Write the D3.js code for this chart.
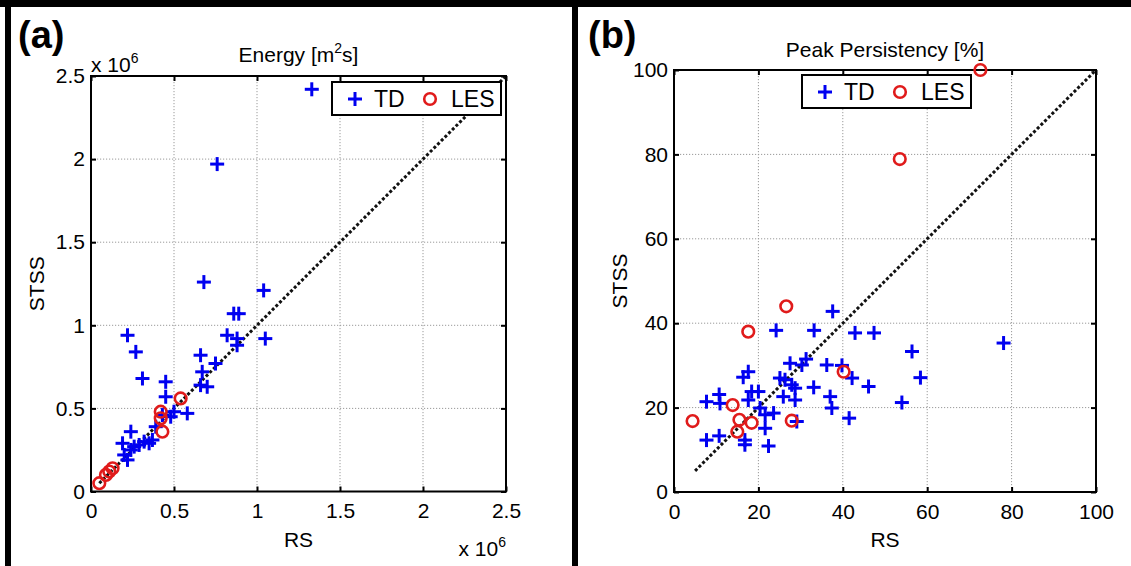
<!DOCTYPE html>
<html><head><meta charset="utf-8">
<script src="https://cdn.jsdelivr.net/npm/d3@7"></script>
<style>body{margin:0;background:#fff}svg{display:block;font-family:"Liberation Sans",Arial,sans-serif}</style>
</head><body><svg id="c" width="1131" height="566"></svg>
<script>
// Panel (a): Energy [m^2 s], values in units of 10^6
const ticksA = [0, 0.5, 1, 1.5, 2, 2.5];
const tickLabelsA = ["0", "0.5", "1", "1.5", "2", "2.5"];
const tdA_rs   = [1.33,0.76,0.68,1.04,0.86,0.89,0.82,0.88,0.88,1.05,0.66,0.75,0.67,0.66,0.70,0.22,0.27,0.31,0.45,0.45,0.24,0.19,0.26,0.22,0.29,0.32,0.35,0.37,0.39,0.43,0.48,0.50,0.58,0.20,0.24];
const tdA_stss = [2.42,1.97,1.26,1.21,1.07,1.07,0.94,0.92,0.88,0.92,0.82,0.77,0.72,0.64,0.63,0.94,0.84,0.68,0.66,0.57,0.36,0.29,0.27,0.19,0.28,0.30,0.29,0.31,0.39,0.46,0.45,0.48,0.47,0.22,0.25];
const lesA_rs   = [0.05,0.09,0.11,0.13,0.42,0.42,0.43,0.54];
const lesA_stss = [0.05,0.10,0.12,0.14,0.48,0.44,0.36,0.56];
const diagA = [0.05, 2.5];

// Panel (b): Peak Persistency [%]
const ticksB = [0, 20, 40, 60, 80, 100];
const tickLabelsB = ["0", "20", "40", "60", "80", "100"];
const tdB_rs   = [7.7,10.7,10.9,7.7,10.7,16.4,17.6,16.8,16.8,17.6,18.4,20.0,20.4,21.6,21.6,22.4,23.6,24.2,25.1,25.9,26.3,27.5,27.9,28.7,28.7,29.1,30.3,31.3,33.1,33.2,36.2,37.0,37.6,37.4,41.5,42.2,39.8,42.9,47.4,46.1,56.4,58.4,54.0,78.1];
const tdB_stss = [21.4,23.1,21.0,12.3,13.3,27.2,28.5,12.3,11.2,21.8,23.8,23.8,19.9,18.3,15.1,10.9,18.7,38.3,27.0,22.6,26.6,30.5,25.4,24.6,21.8,16.7,30.1,31.5,24.8,38.3,30.1,22.6,42.8,19.9,17.5,27.0,30.0,37.7,37.7,25.0,33.3,27.1,21.2,35.3];
const lesB_rs   = [4.4,13.9,15.0,15.5,18.4,17.6,26.6,27.9,40.2,53.5,72.6];
const lesB_stss = [16.8,20.6,14.3,17.1,16.4,38.0,44.0,16.9,28.5,78.9,100.0];
const diagB = [5, 100];

const BLUE = "#0000f0", RED = "#e01b1b";
const svg = d3.select("#c");

// figure borders
svg.append("rect").attr("x",0).attr("y",0).attr("width",1131).attr("height",7).attr("fill","#000");
svg.append("rect").attr("x",5).attr("y",0).attr("width",6).attr("height",566).attr("fill","#000");
svg.append("rect").attr("x",572).attr("y",0).attr("width",6).attr("height",566).attr("fill","#000");

function plus(sel, s) {
  sel.append("line").attr("x1",-s).attr("x2",s).attr("y1",0).attr("y2",0);
  sel.append("line").attr("x1",0).attr("x2",0).attr("y1",-s).attr("y2",s);
}

function panel(c) {
  const x = d3.scaleLinear().domain([c.ticks[0], c.ticks[c.ticks.length-1]]).range([c.left, c.right]);
  const y = d3.scaleLinear().domain([c.ticks[0], c.ticks[c.ticks.length-1]]).range([c.bottom, c.top]);
  const g = svg.append("g");
  const inner = c.ticks.slice(1, -1);
  // grid
  g.selectAll(".gx").data(inner).join("line")
    .attr("x1", d=>x(d)).attr("x2", d=>x(d)).attr("y1", c.top).attr("y2", c.bottom)
    .attr("stroke","#9a9a9a").attr("stroke-width",1).attr("stroke-dasharray","1.2,1.8");
  g.selectAll(".gy").data(inner).join("line")
    .attr("y1", d=>y(d)).attr("y2", d=>y(d)).attr("x1", c.left).attr("x2", c.right)
    .attr("stroke","#9a9a9a").attr("stroke-width",1).attr("stroke-dasharray","1.2,1.8");

  const fmt = (d,i)=>c.labels[c.ticks.indexOf(d)];
  const styleAxis = a => {
    a.select(".domain").remove();
    a.selectAll(".tick line").attr("stroke","#000").attr("stroke-width",2);
    a.selectAll("text").attr("font-size",21).attr("fill","#000").attr("font-family",'"Liberation Sans",Arial,sans-serif');
  };
  g.append("g").attr("transform",`translate(0,${c.bottom})`)
    .call(d3.axisBottom(x).tickValues(c.ticks).tickFormat(fmt).tickSizeInner(-5).tickSizeOuter(0).tickPadding(12)).call(styleAxis);
  g.append("g").attr("transform",`translate(${c.left},0)`)
    .call(d3.axisLeft(y).tickValues(c.ticks).tickFormat(fmt).tickSizeInner(-5).tickSizeOuter(0).tickPadding(6)).call(styleAxis);
  g.append("g").attr("transform",`translate(0,${c.top})`)
    .call(d3.axisTop(x).tickValues(c.ticks).tickFormat("").tickSizeInner(-5).tickSizeOuter(0)).call(styleAxis);
  g.append("g").attr("transform",`translate(${c.right},0)`)
    .call(d3.axisRight(y).tickValues(c.ticks).tickFormat("").tickSizeInner(-5).tickSizeOuter(0)).call(styleAxis);

  // 1:1 line
  g.append("line").attr("x1",x(c.diag[0])).attr("y1",y(c.diag[0])).attr("x2",x(c.diag[1])).attr("y2",y(c.diag[1]))
    .attr("stroke","#111").attr("stroke-width",3).attr("stroke-dasharray","3,2.2");

  // frame
  g.append("rect").attr("x",c.left).attr("y",c.top).attr("width",c.right-c.left).attr("height",c.bottom-c.top)
    .attr("fill","none").attr("stroke","#000").attr("stroke-width",2);

  // TD markers
  const td = c.tdX.map((v,i)=>[v, c.tdY[i]]);
  g.selectAll(".td").data(td).join("g")
    .attr("transform", d=>`translate(${x(d[0])},${y(d[1])})`)
    .attr("stroke",BLUE).attr("stroke-width",3)
    .each(function(){ plus(d3.select(this), 7); });
  const les = c.lesX.map((v,i)=>[v, c.lesY[i]]);
  g.selectAll(".les").data(les).join("circle")
    .attr("cx", d=>x(d[0])).attr("cy", d=>y(d[1])).attr("r",5.8)
    .attr("fill","none").attr("stroke",RED).attr("stroke-width",2.6);

  // axis labels
  const cx = (c.left+c.right)/2, cy = (c.top+c.bottom)/2;
  g.append("text").attr("x",cx).attr("y",c.bottom+55).attr("text-anchor","middle").attr("font-size",21).text("RS");
  g.append("text").attr("transform",`translate(${c.left-47},${cy}) rotate(-90)`).attr("text-anchor","middle").attr("font-size",21).text("STSS");

  // legend
  const lg = g.append("g").attr("transform",`translate(${c.legX},${c.legY})`);
  lg.append("rect").attr("width",169).attr("height",33).attr("fill","#fff").attr("stroke","#000").attr("stroke-width",2);
  lg.append("g").attr("transform","translate(23,17)").attr("stroke",BLUE).attr("stroke-width",3).each(function(){ plus(d3.select(this),7); });
  lg.append("text").attr("x",42).attr("y",25).attr("font-size",23).text("TD");
  lg.append("circle").attr("cx",98).attr("cy",17).attr("r",5.8).attr("fill","none").attr("stroke",RED).attr("stroke-width",2.6);
  lg.append("text").attr("x",119).attr("y",25).attr("font-size",23).text("LES");
  return g;
}

const gA = panel({left:91,right:506,top:76,bottom:491.5,ticks:ticksA,labels:tickLabelsA,
  tdX:tdA_rs,tdY:tdA_stss,lesX:lesA_rs,lesY:lesA_stss,diag:diagA,legX:332,legY:82});
const gB = panel({left:674,right:1096,top:70,bottom:492,ticks:ticksB,labels:tickLabelsB,
  tdX:tdB_rs,tdY:tdB_stss,lesX:lesB_rs,lesY:lesB_stss,diag:diagB,legX:802,legY:75});

// titles and panel letters
const tA = svg.append("text").attr("x",298.5).attr("y",62).attr("text-anchor","middle").attr("font-size",21);
tA.append("tspan").text("Energy [m");
tA.append("tspan").attr("font-size",14).attr("dy",-9).text("2");
tA.append("tspan").attr("dy",9).text("s]");
svg.append("text").attr("x",885).attr("y",57).attr("text-anchor","middle").attr("font-size",21).text("Peak Persistency [%]");
svg.append("text").attr("x",18).attr("y",48).attr("font-size",38).attr("font-weight","bold").text("(a)");
svg.append("text").attr("x",588).attr("y",48).attr("font-size",38).attr("font-weight","bold").text("(b)");

// exponent labels for panel (a)
const eTop = svg.append("text").attr("x",91).attr("y",72).attr("font-size",21);
eTop.append("tspan").text("x 10");
eTop.append("tspan").attr("font-size",14).attr("dy",-9).text("6");
const eBot = svg.append("text").attr("x",506).attr("y",556).attr("text-anchor","end").attr("font-size",21);
eBot.append("tspan").text("x 10");
eBot.append("tspan").attr("font-size",14).attr("dy",-9).text("6");
</script></body></html>
